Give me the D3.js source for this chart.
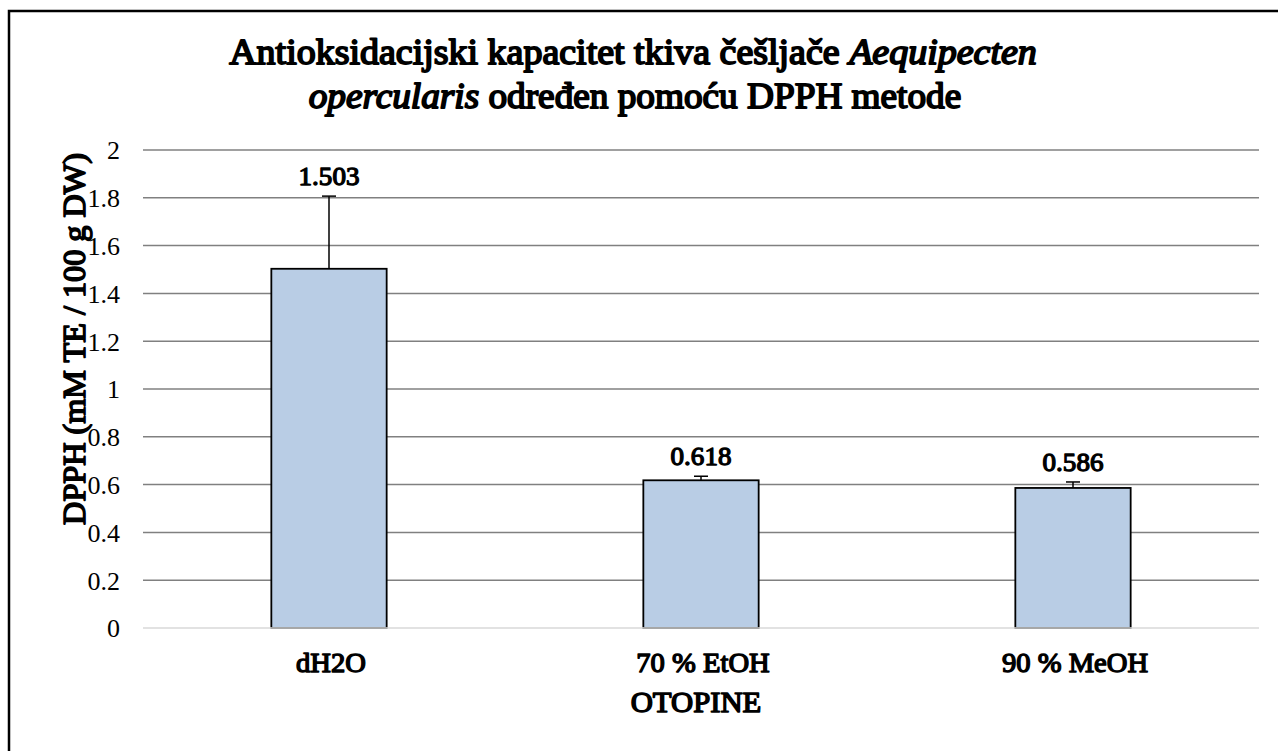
<!DOCTYPE html>
<html><head><meta charset="utf-8">
<script src="https://cdn.jsdelivr.net/npm/d3@7"></script>
<style>body{margin:0;background:#fff}svg{display:block}text{font-family:"Liberation Serif","Times New Roman",Times,serif}</style>
</head><body>
<svg id="c" width="1278" height="751"></svg>
<script>
const categories = ["dH2O", "70 % EtOH", "90 % MeOH"];
const values = [1.503, 0.618, 0.586];
const errors = [0.304, 0.017, 0.025];
const yTicks = [0, 0.2, 0.4, 0.6, 0.8, 1, 1.2, 1.4, 1.6, 1.8, 2];
const yTickLabels = ["0", "0.2", "0.4", "0.6", "0.8", "1", "1.2", "1.4", "1.6", "1.8", "2"];
const titleLine1 = [{t: "Antioksidacijski  kapacitet tkiva češljače "}, {t: "Aequipecten", it: true}];
const titleLine2 = [{t: "opercularis", it: true}, {t: " određen pomoću  DPPH metode"}];
const xTitle = "OTOPINE";
const yTitle = "DPPH (mM TE / 100 g DW)";

const svg = d3.select("#c");
svg.append("rect").attr("x", 9).attr("y", 11).attr("width", 1290).attr("height", 800)
  .attr("fill", "none").attr("stroke", "#000").attr("stroke-width", 2.5);

// faux-bold serif text helper (bold face of the serif family is not installed)
function label(g, x, y, size, parts, opt = {}) {
  const sx = opt.sx || 1.04;
  const t = g.append("text")
    .attr("transform", `translate(${x},${y}) rotate(${opt.rot || 0}) scale(${sx},1)`)
    .attr("text-anchor", opt.anchor || "middle")
    .attr("font-size", size).attr("fill", "#000")
    .attr("stroke", "#000").attr("stroke-width", size * 0.05).attr("stroke-linejoin", "round");
  (typeof parts === "string" ? [{t: parts}] : parts).forEach(p => {
    const s = t.append("tspan").text(p.t);
    if (p.it) s.attr("font-style", "italic");
  });
  return t;
}

const m = {l: 143, r: 1259, t: 150, b: 628};
const x = d3.scaleBand().domain(categories).range([m.l, m.r]).paddingInner(0.69).paddingOuter(0.345);
const y = d3.scaleLinear().domain([0, 2]).range([m.b, m.t]);

// gridlines
svg.append("g").selectAll("line").data(yTicks.slice(1)).join("line")
  .attr("x1", m.l).attr("x2", m.r).attr("y1", d => y(d)).attr("y2", d => y(d))
  .attr("stroke", "#808080").attr("stroke-width", 1.5);

// y axis labels
const yAxis = d3.axisLeft(y).tickValues(yTicks).tickFormat((d, i) => yTickLabels[i]).tickSize(0).tickPadding(0);
const ga = svg.append("g").attr("transform", `translate(${m.l - 23},0)`).call(yAxis);
ga.select(".domain").remove();
ga.selectAll("text").attr("font-size", 26).attr("fill", "#000").attr("dy", "0.34em");

// bars
svg.append("g").selectAll("rect").data(values).join("rect")
  .attr("x", (d, i) => x(categories[i])).attr("width", x.bandwidth())
  .attr("y", d => y(d)).attr("height", d => y(0) - y(d))
  .attr("fill", "#b9cde5").attr("stroke", "#000").attr("stroke-width", 1.8);

// zero axis line
svg.append("line").attr("x1", m.l).attr("x2", m.r).attr("y1", y(0)).attr("y2", y(0))
  .attr("stroke", "#d9d9d9").attr("stroke-width", 1.5);

// error bars
const eg = svg.append("g").attr("stroke", "#000").attr("stroke-width", 1.5);
values.forEach((v, i) => {
  const cx = x(categories[i]) + x.bandwidth() / 2;
  eg.append("line").attr("x1", cx).attr("x2", cx).attr("y1", y(v)).attr("y2", y(v + errors[i]));
  eg.append("line").attr("x1", cx - 7).attr("x2", cx + 7).attr("y1", y(v + errors[i])).attr("y2", y(v + errors[i]));
});

// value labels
const vg = svg.append("g");
values.forEach((v, i) => {
  label(vg, x(categories[i]) + x.bandwidth() / 2, y(v + errors[i]) - 11, 26, v.toFixed(3));
});

// category labels
const cg = svg.append("g");
categories.forEach(c => label(cg, x(c) + x.bandwidth() / 2 + 2, 672, 27.5, c));

// axis titles
label(svg, 696, 712, 29.5, xTitle);
label(svg, 85, 339, 31, yTitle, {rot: -90});

// title
label(svg, 633, 64, 35.5, titleLine1, {sx: 1.07});
label(svg, 635, 108, 35.5, titleLine2, {sx: 1.05});
</script>
</body></html>
